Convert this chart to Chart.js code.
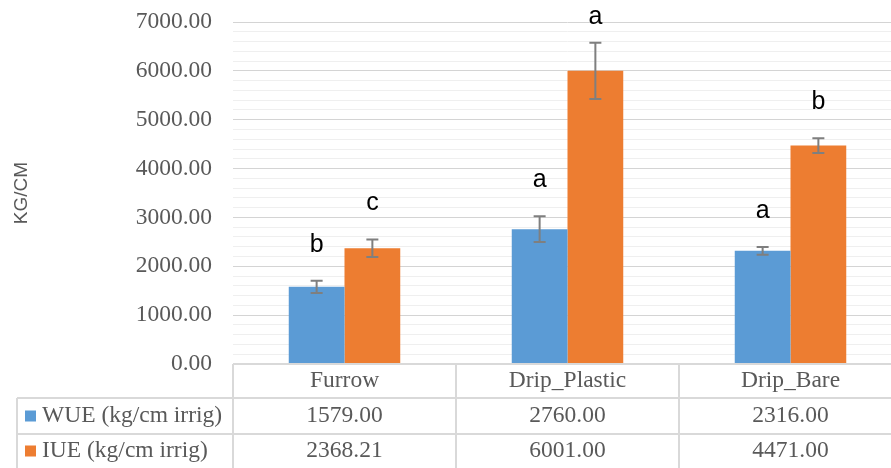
<!DOCTYPE html>
<html>
<head>
<meta charset="utf-8">
<script src="https://cdn.jsdelivr.net/npm/chart.js@4/dist/chart.umd.min.js"></script>
<style>
  html, body { margin: 0; padding: 0; background: #ffffff; overflow: hidden; }
  #wrap { width: 891px; height: 468px; overflow: hidden; }
  #c { display: block; }
</style>
</head>
<body>
<div id="wrap"><canvas id="c" width="902" height="468"></canvas></div>
<script>
// Irrigation methods and measured efficiencies
const categories = ['Furrow', 'Drip_Plastic', 'Drip_Bare'];
const seriesNames = ['WUE (kg/cm irrig)', 'IUE (kg/cm irrig)'];
const wue = [1579.00, 2760.00, 2316.00];
const iue = [2368.21, 6001.00, 4471.00];
// standard errors (± whisker half-length)
const wueErr = [125, 265, 80];
const iueErr = [180, 575, 150];
// significance groups
const wueLetters = ['b', 'a', 'a'];
const iueLetters = ['c', 'a', 'b'];
// value axis
const yMin = 0, yMax = 7000, yMajor = 1000, yMinor = 200;
const yTickValues = [];
for (let v = yMin; v <= yMax; v += yMinor) yTickValues.push(v);

const BLUE = '#5B9BD5';
const ORANGE = '#ED7D31';
const TEXT = '#595959';
const LINE = '#d9d9d9';
const SERIF = '"Liberation Serif", "Times New Roman", serif';
const SANS = '"Liberation Sans", Arial, sans-serif';
const TABLE_FONT = '23.5px ' + SERIF;

// whiskers and group letters above each bar
const errorBars = {
  id: 'errorBars',
  afterDatasetsDraw(chart) {
    const { ctx, scales: { y } } = chart;
    chart.data.datasets.forEach((ds, di) => {
      const meta = chart.getDatasetMeta(di);
      meta.data.forEach((bar, i) => {
        const v = ds.data[i], e = ds.errors[i];
        const top = y.getPixelForValue(v + e);
        const bot = y.getPixelForValue(v - e);
        const x = bar.x, cap = 6;
        ctx.save();
        ctx.strokeStyle = '#7f7f7f';
        ctx.lineWidth = 2;
        ctx.beginPath();
        ctx.moveTo(x, top); ctx.lineTo(x, bot);
        ctx.moveTo(x - cap, top); ctx.lineTo(x + cap, top);
        ctx.moveTo(x - cap, bot); ctx.lineTo(x + cap, bot);
        ctx.stroke();
        ctx.fillStyle = '#000000';
        ctx.font = '25px ' + SANS;
        ctx.textAlign = 'center';
        ctx.textBaseline = 'middle';
        ctx.fillText(ds.letters[i], x, Math.max(top - 36, 17));
        ctx.restore();
      });
    });
  }
};

// data table under the plot, with legend keys
const dataTable = {
  id: 'dataTable',
  afterDraw(chart) {
    const { ctx, chartArea: a } = chart;
    const n = categories.length;
    const cw = (a.right - a.left) / n;
    const r0 = a.bottom, r1 = r0 + 34, r2 = r1 + 36, r3 = chart.height + 2;
    const leftEdge = 17;
    ctx.save();
    ctx.strokeStyle = LINE;
    ctx.lineWidth = 2;
    ctx.beginPath();
    ctx.moveTo(a.left, r0); ctx.lineTo(a.right, r0);
    ctx.moveTo(leftEdge, r1); ctx.lineTo(a.right, r1);
    ctx.moveTo(leftEdge, r2); ctx.lineTo(a.right, r2);
    ctx.moveTo(leftEdge, r1); ctx.lineTo(leftEdge, r3);
    for (let i = 0; i < n; i++) {
      const x = a.left + i * cw;
      ctx.moveTo(x, r0); ctx.lineTo(x, r3);
    }
    ctx.stroke();

    ctx.fillStyle = TEXT;
    ctx.font = TABLE_FONT;
    ctx.textAlign = 'center';
    ctx.textBaseline = 'middle';
    const rows = [wue, iue];
    const mids = [(r1 + r2) / 2, (r2 + r3) / 2 - 1];
    categories.forEach((c, i) => {
      const cx = a.left + (i + 0.5) * cw;
      ctx.fillText(c, cx, (r0 + r1) / 2);
      rows.forEach((vals, k) => ctx.fillText(vals[i].toFixed(2), cx, mids[k]));
    });
    const colors = [BLUE, ORANGE];
    ctx.textAlign = 'left';
    seriesNames.forEach((s, k) => {
      ctx.fillStyle = colors[k];
      ctx.fillRect(25, mids[k] - 5.5, 11, 11);
      ctx.fillStyle = TEXT;
      ctx.fillText(s, 42, mids[k]);
    });
    ctx.restore();
  }
};

new Chart(document.getElementById('c'), {
  type: 'bar',
  data: {
    labels: categories,
    datasets: [
      { label: seriesNames[0], data: wue, errors: wueErr, letters: wueLetters,
        backgroundColor: BLUE, borderWidth: 0 },
      { label: seriesNames[1], data: iue, errors: iueErr, letters: iueLetters,
        backgroundColor: ORANGE, borderWidth: 0 }
    ]
  },
  options: {
    responsive: false,
    animation: false,
    layout: { padding: { top: 22, right: 0, bottom: 104, left: 0 } },
    plugins: { legend: { display: false }, tooltip: { enabled: false } },
    datasets: { bar: { categoryPercentage: 0.5, barPercentage: 1.0 } },
    scales: {
      x: { display: false, offset: true, grid: { display: false } },
      y: {
        min: yMin, max: yMax,
        afterBuildTicks: (axis) => { axis.ticks = yTickValues.map(v => ({ value: v })); },
        afterFit: (axis) => { axis.width = 233; axis.paddingTop = 0; axis.paddingBottom = 0; },
        border: { display: false },
        grid: {
          drawTicks: false,
          lineWidth: 1,
          color: (c) => (c.tick && c.tick.value % yMajor === 0) ? '#d4d4d4' : '#efefef'
        },
        ticks: {
          autoSkip: false,
          padding: 21,
          color: TEXT,
          font: { family: SERIF, size: 23.5 },
          callback: (v) => (v % yMajor === 0) ? Number(v).toFixed(2) : ''
        },
        title: {
          display: true,
          text: 'KG/CM',
          color: TEXT,
          font: { family: SANS, size: 19 },
          padding: { top: 10, bottom: 0 }
        }
      }
    }
  },
  plugins: [errorBars, dataTable]
});
</script>
</body>
</html>
